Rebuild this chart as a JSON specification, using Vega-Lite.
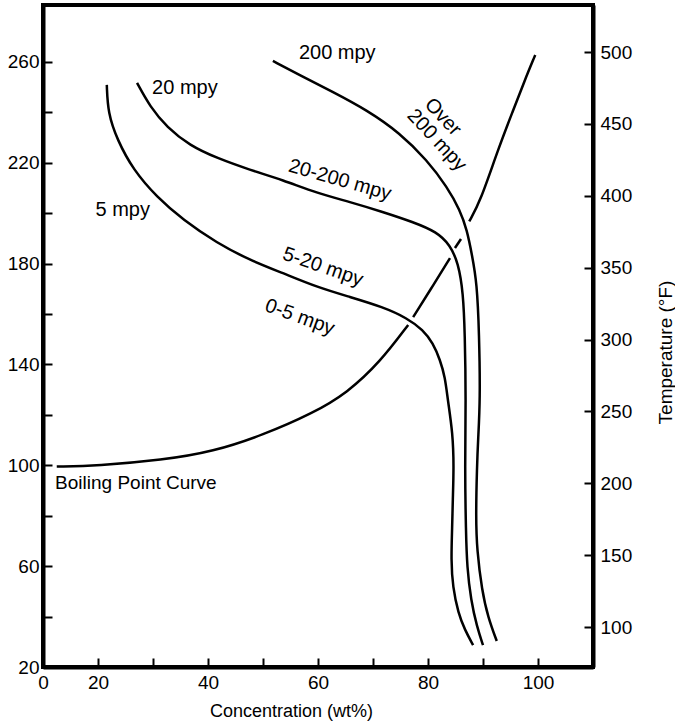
{
  "$schema": "https://vega.github.io/schema/vega-lite/v6.json",
  "width": 550,
  "height": 662,
  "autosize": "none",
  "padding": {"left": 43, "top": 5, "right": 82, "bottom": 59},
  "background": "white",
  "config": {
    "view": {"stroke": "black", "strokeWidth": 4},
    "axis": {
      "grid": false,
      "domainColor": "black",
      "domainWidth": 4,
      "tickColor": "black",
      "tickWidth": 2,
      "tickSize": -9,
      "labelFont": "Liberation Sans",
      "labelFontSize": 19,
      "labelColor": "black",
      "titleFont": "Liberation Sans",
      "titleFontWeight": "normal",
      "titleColor": "black",
      "labelFlush": false,
      "labelOverlap": false
    },
    "text": {"font": "Liberation Sans", "fontSize": 20, "color": "black"}
  },
  "datasets": {
    "curves": [
      {"seg": "A", "x": 21.6, "y": 250.9}, {"seg": "A", "x": 21.8, "y": 239.8}, {"seg": "A", "x": 23.5, "y": 229.1},
      {"seg": "A", "x": 26.4, "y": 217.2}, {"seg": "A", "x": 30.7, "y": 206.4}, {"seg": "A", "x": 35.5, "y": 197.3},
      {"seg": "A", "x": 41.6, "y": 188.2}, {"seg": "A", "x": 47.6, "y": 181.4}, {"seg": "A", "x": 53.6, "y": 176.3},
      {"seg": "A", "x": 59.8, "y": 170.7}, {"seg": "A", "x": 65.8, "y": 166.8}, {"seg": "A", "x": 71.8, "y": 162.8},
      {"seg": "A", "x": 76.2, "y": 158.4}, {"seg": "A", "x": 79.1, "y": 153.7}, {"seg": "A", "x": 80.9, "y": 148.5},
      {"seg": "A", "x": 82.2, "y": 141.8}, {"seg": "A", "x": 83.1, "y": 135.0}, {"seg": "A", "x": 83.6, "y": 125.9},
      {"seg": "A", "x": 84.5, "y": 112.8}, {"seg": "A", "x": 84.7, "y": 99.3}, {"seg": "A", "x": 84.5, "y": 86.2},
      {"seg": "A", "x": 84.4, "y": 75.5}, {"seg": "A", "x": 84.2, "y": 62.4}, {"seg": "A", "x": 84.5, "y": 51.7},
      {"seg": "A", "x": 85.5, "y": 41.4}, {"seg": "A", "x": 86.7, "y": 34.7}, {"seg": "A", "x": 88.2, "y": 28.7},

      {"seg": "B", "x": 27.1, "y": 251.7}, {"seg": "B", "x": 29.5, "y": 242.1}, {"seg": "B", "x": 32.5, "y": 234.2},
      {"seg": "B", "x": 36.7, "y": 226.8}, {"seg": "B", "x": 41.6, "y": 221.9}, {"seg": "B", "x": 47.6, "y": 217.2},
      {"seg": "B", "x": 53.6, "y": 213.2}, {"seg": "B", "x": 59.8, "y": 208.0}, {"seg": "B", "x": 65.8, "y": 204.5},
      {"seg": "B", "x": 71.8, "y": 200.5}, {"seg": "B", "x": 77.3, "y": 196.5}, {"seg": "B", "x": 81.6, "y": 192.6},
      {"seg": "B", "x": 84.0, "y": 187.4}, {"seg": "B", "x": 85.5, "y": 180.3}, {"seg": "B", "x": 86.4, "y": 168.4},
      {"seg": "B", "x": 86.7, "y": 152.5}, {"seg": "B", "x": 86.9, "y": 125.9}, {"seg": "B", "x": 86.7, "y": 99.3},
      {"seg": "B", "x": 86.9, "y": 73.2}, {"seg": "B", "x": 87.1, "y": 59.7}, {"seg": "B", "x": 87.8, "y": 46.6},
      {"seg": "B", "x": 88.9, "y": 35.9}, {"seg": "B", "x": 90.0, "y": 28.7},

      {"seg": "C", "x": 51.8, "y": 260.4}, {"seg": "C", "x": 56.7, "y": 254.8}, {"seg": "C", "x": 62.7, "y": 248.1},
      {"seg": "C", "x": 68.9, "y": 240.9}, {"seg": "C", "x": 74.9, "y": 231.8}, {"seg": "C", "x": 79.8, "y": 221.1},
      {"seg": "C", "x": 83.5, "y": 210.4}, {"seg": "C", "x": 85.8, "y": 201.3}, {"seg": "C", "x": 87.1, "y": 193.3},
      {"seg": "C", "x": 88.0, "y": 183.4}, {"seg": "C", "x": 88.9, "y": 172.3}, {"seg": "C", "x": 89.3, "y": 152.5},
      {"seg": "C", "x": 89.5, "y": 125.9}, {"seg": "C", "x": 89.1, "y": 110.0}, {"seg": "C", "x": 88.9, "y": 99.3},
      {"seg": "C", "x": 88.7, "y": 79.5}, {"seg": "C", "x": 88.9, "y": 66.4}, {"seg": "C", "x": 89.8, "y": 50.5},
      {"seg": "C", "x": 90.9, "y": 39.8}, {"seg": "C", "x": 92.5, "y": 30.3},

      {"seg": "BP1", "x": 12.5, "y": 99.5}, {"seg": "BP1", "x": 19.8, "y": 99.8}, {"seg": "BP1", "x": 31.8, "y": 102.1},
      {"seg": "BP1", "x": 40.9, "y": 105.4}, {"seg": "BP1", "x": 50.0, "y": 112.0}, {"seg": "BP1", "x": 59.1, "y": 120.7},
      {"seg": "BP1", "x": 65.3, "y": 128.7}, {"seg": "BP1", "x": 71.3, "y": 141.0}, {"seg": "BP1", "x": 76.4, "y": 155.7},
      {"seg": "BP2", "x": 77.3, "y": 158.8}, {"seg": "BP2", "x": 80.4, "y": 169.5}, {"seg": "BP2", "x": 84.0, "y": 182.2},
      {"seg": "BP3", "x": 84.9, "y": 186.2}, {"seg": "BP3", "x": 86.0, "y": 189.8},
      {"seg": "BP4", "x": 87.5, "y": 196.8}, {"seg": "BP4", "x": 89.5, "y": 204.6}, {"seg": "BP4", "x": 92.7, "y": 225.1},
      {"seg": "BP4", "x": 95.5, "y": 240.9}, {"seg": "BP4", "x": 97.6, "y": 252.8}, {"seg": "BP4", "x": 99.5, "y": 262.8}
    ],
    "labels": [
      {"id": "top200", "label": "200 mpy", "x": 63.5, "y": 263.6},
      {"id": "l20", "label": "20 mpy", "x": 35.8, "y": 249.7},
      {"id": "l5", "label": "5 mpy", "x": 24.5, "y": 201.3},
      {"id": "r20200", "label": "20-200 mpy", "x": 64.0, "y": 213.2},
      {"id": "r520", "label": "5-20 mpy", "x": 60.9, "y": 178.7},
      {"id": "r05", "label": "0-5 mpy", "x": 56.7, "y": 158.8},
      {"id": "over", "label": "Over", "x": 82.7, "y": 238.2},
      {"id": "over200", "label": "200 mpy", "x": 81.6, "y": 229.0},
      {"id": "bp", "label": "Boiling Point Curve", "x": 12.2, "y": 93.0}
    ]
  },
  "layer": [
    {
      "encoding": {
        "x": {
          "field": "x", "type": "quantitative",
          "scale": {"domain": [10, 110], "nice": false, "zero": false},
          "axis": {
            "orient": "bottom",
            "values": [10, 20, 30, 40, 50, 60, 70, 80, 90, 100],
            "labelExpr": "datum.value == 10 ? '0' : (datum.value % 20 == 0 ? datum.label : '')",
            "labelPadding": 15,
            "title": "Concentration (wt%)",
            "titleFontSize": 18,
            "titleX": 248,
            "titleY": 49,
            "titleAlign": "center",
            "titleBaseline": "alphabetic"
          }
        },
        "y": {
          "field": "y", "type": "quantitative",
          "scale": {"domain": [20, 282.6], "nice": false, "zero": false},
          "axis": {
            "orient": "left",
            "values": [20, 40, 60, 80, 100, 120, 140, 160, 180, 200, 220, 240, 260],
            "labelExpr": "(datum.value - 20) % 40 == 0 ? datum.label : ''",
            "labelPadding": 13,
            "title": null
          }
        }
      },
      "layer": [
        {
          "data": {"name": "curves"},
          "mark": {"type": "line", "interpolate": "basis", "color": "black", "strokeWidth": 2.5},
          "encoding": {"detail": {"field": "seg"}, "order": {"value": null}}
        },
        {
          "data": {"name": "labels"},
          "transform": [{"filter": "datum.id == 'top200' || datum.id == 'l20' || datum.id == 'l5'"}],
          "mark": {"type": "text", "align": "center", "baseline": "middle"},
          "encoding": {"text": {"field": "label"}}
        },
        {
          "data": {"name": "labels"},
          "transform": [{"filter": "datum.id == 'r20200'"}],
          "mark": {"type": "text", "align": "center", "baseline": "middle", "angle": 16},
          "encoding": {"text": {"field": "label"}}
        },
        {
          "data": {"name": "labels"},
          "transform": [{"filter": "datum.id == 'r520'"}],
          "mark": {"type": "text", "align": "center", "baseline": "middle", "angle": 19},
          "encoding": {"text": {"field": "label"}}
        },
        {
          "data": {"name": "labels"},
          "transform": [{"filter": "datum.id == 'r05'"}],
          "mark": {"type": "text", "align": "center", "baseline": "middle", "angle": 20},
          "encoding": {"text": {"field": "label"}}
        },
        {
          "data": {"name": "labels"},
          "transform": [{"filter": "datum.id == 'over' || datum.id == 'over200'"}],
          "mark": {"type": "text", "align": "center", "baseline": "middle", "angle": 47},
          "encoding": {"text": {"field": "label"}}
        },
        {
          "data": {"name": "labels"},
          "transform": [{"filter": "datum.id == 'bp'"}],
          "mark": {"type": "text", "align": "left", "baseline": "middle", "fontSize": 19},
          "encoding": {"text": {"field": "label"}}
        }
      ]
    },
    {
      "data": {"values": [{"F": 100}, {"F": 500}]},
      "mark": {"type": "point", "opacity": 0},
      "encoding": {
        "y": {
          "field": "F", "type": "quantitative",
          "scale": {"domain": [72.2, 532.7], "nice": false, "zero": false},
          "axis": {
            "orient": "right",
            "values": [100, 150, 200, 250, 300, 350, 400, 450, 500],
            "labelPadding": 16,
            "title": "Temperature (°F)",
            "titleFontSize": 19,
            "titleAngle": 270,
            "titleX": 72,
            "titleY": 347,
            "titleAlign": "center",
            "titleBaseline": "middle"
          }
        }
      }
    }
  ],
  "resolve": {"scale": {"y": "independent"}}
}
